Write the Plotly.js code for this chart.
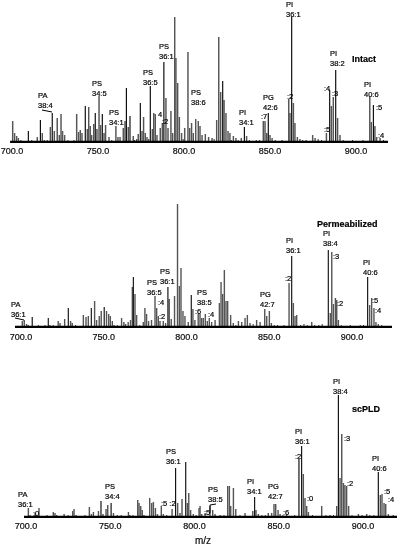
<!DOCTYPE html>
<html><head><meta charset="utf-8">
<script src="https://cdn.plot.ly/plotly-3.0.1.min.js"></script>
<style>html,body{margin:0;padding:0;background:#fff}#c{width:401px;height:547px;filter:grayscale(1)}.annotation-text,.xtick text,.x2tick text,.x3tick text{stroke:#000;stroke-width:.2px}</style>
</head><body><div id="c"></div>
<script>
const tickVals=[700,750,800,850,900];
const tickText=['700.0','750.0','800.0','850.0','900.0'];

const intactGrayMz=[700.4,701.5,702.7,703.7,714.7,717.6,718.8,722.3,724.6,726.3,727.5,728.5,729.4,730.6,737.6,738.7,739.7,740.7,743.8,744.6,745.5,746.3,747.5,749.4,750.6,751.5,753.5,754.4,756.4,760.4,761.6,762.8,764.7,765.7,767.6,770.5,772.5,773.4,775.6,776.5,777.5,778.5,781.6,782.4,783.3,784.3,786.2,787.4,789.5,790.7,792.4,793.4,794.6,795.3,796.3,797.3,798.6,800.4,802.3,803.3,804.4,805.4,806.8,808.3,809.3,810.5,812.4,814.3,816.3,819,820.2,821.3,823.3,824.4,825.6,826.7,828.7,830.2,833.3,836.4,846.1,847.1,848.1,850,851.2,860.9,861.6,863.6,864.5,865.9,867.4,874.8,876.2,882.8,885.7,886.8,889.3,890.7,908,908.9,911,912,914];
const intactGrayH=[22,10,7,5,6,10,3,16,12,25,8,29,12,8,29,11,13,10,14,36,17,8,19,14,47,18,10,18,6,17,6,6,15,22,16,7,4,9,12,26,10,6,14,30,29,8,15,20,45,15,32,10,126,85,60,26,10,15,91,15,20,10,24,22,17,8,9,6,5,23,106,51,43,30,12,10,7,5,5,7,22,22,10,8,5,44,30,40,20,6,4,8,5,10,37,46,25,8,46,21,17,6,5];
const intactBlackMz=[709.5,716.5,723.4,742.6,748.4,752.5,766.5,768.6,774.6,780.4,788.3,822.5,835.1,849,862.6,884.7,888.2,910.1];
const intactBlackH=[12,23,30,37,30,29,55,27,40,57,81,62,16,30,126,53,73,38];
const intactSmallMz=[705.2,707,711.5,713,720.5,732.5,734,736,758,759,771.3,779.5,799.5,817.5,827.5,831.5,838,840.5,842,844,853,855,857,859,869,871,873,878,880,892.5,895,898,901,904,906,916];
const intactSmallH=[3,2,3,2,3,3,2,3,3,2,3,4,4,4,3,3,3,2,3,3,3,2,3,2,3,3,2,4,3,3,2,3,2,3,2,3];

const permGrayMz=[700.8,702,703.4,704.4,717.5,722.5,723.6,726.4,730,731,737.7,739.3,740.7,744.5,745.7,747.3,748.5,751.7,753,754,755.2,756.2,760.8,762.2,763.2,764.8,766.2,767.3,768.9,769.9,773.9,774.9,775.9,777.1,778.9,781,782,783,784,786,787.4,789.6,790.8,792.8,794.6,795.7,796.7,797.9,799.1,801.1,803.9,805.1,807.1,808.2,809.2,810.2,811.4,812.6,813.8,815.2,817.3,819.9,820.9,821.9,822.9,823.9,824.9,826.7,828.3,831.4,833.4,835.4,836.8,838.4,842.4,844.5,847.3,848.5,850.1,851.3,862,864.6,865.6,866.6,875.7,886.9,887.8,888.8,890,890.8,891.8,910.7,911.9,913.3,914.5,915.9];
const permGrayH=[7,8,4,3,3,7,5,9,7,5,13,11,12,27,8,12,17,17,14,12,7,3,10,6,4,6,8,41,34,13,6,20,14,7,8,32,20,12,7,7,5,29,9,32,124,42,60,17,12,6,19,8,14,14,10,10,14,7,10,6,8,25,46,34,58,27,27,13,5,7,6,10,13,5,8,6,19,12,17,5,45,25,12,13,6,15,76,24,30,28,8,23,30,20,6,4];
const permBlackMz=[706.8,716.5,728.6,742.5,750.3,767.9,788.8,802.9,863.6,885.7,909.5];
const permBlackH=[11,10,20,20,21,51,41,33,72,78,51];
const permSmallMz=[708.5,710.5,712.5,714.5,719.5,721,733,735,758.2,759.5,771.8,829.8,840.3,853,855,857,859,869,871,873,877.5,880,882,893.5,896,899,902,905,907,918,920,922];
const permSmallH=[2,3,2,3,3,2,3,2,3,2,3,3,4,3,3,2,3,3,4,3,3,3,4,3,2,3,2,3,3,3,2,2];

const plaseGrayMz=[701.4,702.4,705.4,707.7,716.2,717.2,718.2,722.6,727.7,728.5,729.7,730.7,737.6,738.8,740,743,745.7,747.5,748.5,751.9,754.2,760.8,761.7,766.3,767.1,768.1,769,770,773.4,774.6,775.6,776.8,778,780.3,781.5,786.7,790,791.4,792.6,795.8,796.6,797.7,799.3,802.7,803.3,804.3,806.3,809.2,810.8,812.2,815.2,819.7,820.7,821.5,823.1,824.5,830,834.6,836.5,837.9,843.8,845.8,847.2,848.2,849.6,850.8,854.7,864.6,865.6,866.6,867.6,875.5,880.4,884.4,886.4,887.4,888.4,889.3,890.3,891.5,897.3,902.2,910.3,911.3,912.5,913.5,915.1,918];
const plaseGrayH=[10,3,5,10,6,5,3,4,7,9,3,2,11,4,6,7,4,9,13,5,3,6,3,18,15,12,8,3,20,15,16,10,4,12,4,9,15,5,19,15,25,8,4,10,12,4,5,12,8,4,3,32,32,12,30,9,5,7,8,4,5,5,14,14,8,4,3,44,20,12,6,12,3,12,40,84,35,33,32,12,4,4,23,24,15,14,4,3];
const plaseBlackMz=[744.5,750.5,788.8,794.8,835.7,862,863.6,885.4,909.1];
const plaseBlackH=[17,15,50,56,21,59,72,123,46];
const plaseSmallMz=[710,712.5,714.5,720,725,733,735,756.5,758.5,763.5,783.5,801,817.5,827,832.5,840,842,852.5,857,859.5,870,872.5,878,882.5,893.5,895.5,899.5,904,906.5,917];
const plaseSmallH=[2,3,2,2,3,2,3,3,2,3,3,3,3,3,2,3,3,3,2,3,3,2,3,3,3,2,3,3,3,2];

const baselineIntact=[698.9,918.6], baselinePerm=[696.4,924.2], baselinePlase=[698.8,920.2];
const baselineLevel=[1,1];

const labelText=['PA<br>38:4','PS<br>34:5','PS<br>34:1','PS<br>36:5','PS<br>36:1','PS<br>38:6','PI<br>36:1','PI<br>34:1','PG<br>42:6','PI<br>38:2','PI<br>40:6','4',':2',':2',':7',':4',':5',':3',':5',':4',
 'PA<br>36:1','PS<br>36:5','PS<br>36:1','PS<br>38:5','PI<br>36:1','PI<br>38:4','PI<br>40:6','PG<br>42:7',':4',':2',':6',':4',':2',':3',':2',':5',':4',
 'PA<br>36:1',':0','PS<br>34:4','PS<br>36:1','PS<br>38:5','PI<br>34:1','PG<br>42:7','PI<br>36:1','PI<br>38:4','PI<br>40:6',':5 :2',':5',':6',':2',':0',':3',':2',':5',':4'];
const labelLeft=[37,91,108,142,158,190,285,238,262,329,363,157,161,286,260,323,323,331,375,377,
 10,146,159,196,285,322,362,259,157,158,194,207,284,332,336,371,374,
 17,32,104,165,207,246,267,294,332,371,160,203,282,294,306,343,346,383,387];
const labelMid=[100,88,117,78,51,97,9,118,102,58,90,114,122,96,116,88,129,94,108,135,
 309,287,277,297,246,239,268,299,302,316,312,314,278,256,303,300,310,
 499,513,492,456,494,486,492,436,386,463,503,512,512,456,498,438,483,491,499];

const W=401,H=547;
const dom=(a,b)=>[a/W,b/W], vdom=(t,b)=>[1-b/H,1-t/H];
const t=[];
function panel(xa,ya,gm,gh,bm,bh,sm,sh,base){
 const bar=(x,y,w,c)=>({type:'bar',x:x,y:y,width:w,marker:{color:c,line:{width:0}},xaxis:xa,yaxis:ya,hoverinfo:'skip',showlegend:false});
 t.push(bar(sm,sh,0.6,'#333'));
 t.push(bar(gm,gh,0.85,'#555'));
 t.push(bar(bm,bh,0.65,'#000'));
 t.push({type:'scatter',mode:'lines',x:base,y:baselineLevel,line:{color:'#000',width:2.4},xaxis:xa,yaxis:ya,hoverinfo:'skip',showlegend:false});
}
panel('x','y',intactGrayMz,intactGrayH,intactBlackMz,intactBlackH,intactSmallMz,intactSmallH,baselineIntact);
panel('x2','y2',permGrayMz,permGrayH,permBlackMz,permBlackH,permSmallMz,permSmallH,baselinePerm);
panel('x3','y3',plaseGrayMz,plaseGrayH,plaseBlackMz,plaseBlackH,plaseSmallMz,plaseSmallH,baselinePlase);

const xax=(d,r,y,st)=>({domain:d,range:r,anchor:y,tickmode:'array',tickvals:tickVals,ticktext:tickText,ticks:'',showgrid:false,zeroline:false,showline:false,ticklabelstandoff:st,tickfont:{family:'Liberation Sans',size:9,color:'#111'}});
const yax=(d,x)=>({domain:d,range:[0,138],anchor:x,visible:false,showgrid:false,zeroline:false});

const ann=labelText.map((s,i)=>({xref:'paper',yref:'paper',x:labelLeft[i]/W,y:1-labelMid[i]/H,text:s,showarrow:false,xanchor:'left',yanchor:'middle',align:'left',borderpad:0,font:{family:'Liberation Sans',size:7.5,color:'#000'}}));
const head=(s,x,y,size)=>({xref:'paper',yref:'paper',x:x/W,y:1-y/H,text:'<b>'+s+'</b>',showarrow:false,xanchor:'left',yanchor:'middle',borderpad:0,font:{family:'Liberation Sans',size:size,color:'#000'}});
ann.push(head('Intact',351,59,9),head('Permeabilized',316,224,9),head('scPLD',351,409,9));
ann.push({xref:'paper',yref:'paper',x:203/W,y:1-540/H,text:'m/z',showarrow:false,xanchor:'center',yanchor:'middle',borderpad:0,font:{family:'Liberation Sans',size:10,color:'#111'}});

const seg=(x0,y0,x1,y1)=>({type:'line',xref:'paper',yref:'paper',x0:x0/W,y0:1-y0/H,x1:x1/W,y1:1-y1/H,line:{color:'#000',width:1}});
const shapes=[seg(42,110,52,112),seg(15,318,24,320),seg(210,505,216,504),seg(210,505,210,513)];

Plotly.newPlot('c',t,{
 width:W,height:H,margin:{l:0,r:0,t:0,b:0},paper_bgcolor:'#fff',plot_bgcolor:'rgba(0,0,0,0)',barmode:'overlay',showlegend:false,
 xaxis:xax(dom(10,388),[698.84,918.6],'y',1),yaxis:yax(vdom(5,143),'x'),
 xaxis2:xax(dom(15,392),[696.4,924.2],'y2',2),yaxis2:yax(vdom(190,328),'x2'),
 xaxis3:xax(dom(24,397),[698.8,920.2],'y3',1),yaxis3:yax(vdom(380,518),'x3'),
 annotations:ann,shapes:shapes
},{displayModeBar:false,staticPlot:true});
</script></body></html>
